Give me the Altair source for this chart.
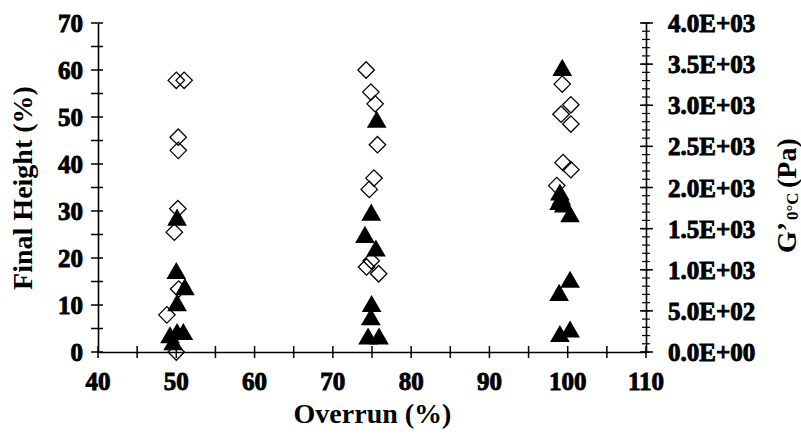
import altair as alt
import pandas as pd

# ---- data ----
DIAMOND_OVERRUN = [50.0, 51.0, 50.25, 50.25, 50.2, 49.75, 50.3, 48.8, 50.0,
                   74.25, 74.85, 75.4, 75.7, 75.25, 74.65, 74.3, 74.9, 75.85,
                   99.3, 100.4, 99.15, 100.4, 99.4, 100.4, 98.6]
DIAMOND_HEIGHT = [57.8, 57.8, 45.7, 42.9, 30.5, 25.5, 13.4, 7.9, 0.0,
                  60.0, 55.3, 52.8, 44.1, 37.0, 34.6, 18.1, 19.4, 16.65,
                  57.0, 52.6, 50.6, 48.5, 40.3, 38.8, 35.4]

TRIANGLE_OVERRUN = [50.1, 50.0, 51.1, 50.1, 49.2, 50.1, 50.9, 49.6,
                    75.6, 74.9, 74.1, 75.5, 74.95, 74.85, 74.5, 75.9,
                    99.3, 99.0, 99.2, 98.9, 99.5, 100.3, 100.3, 98.9, 100.3, 99.0]
TRIANGLE_G = [1640, 990, 795, 600, 210, 250, 250, 125,
              2830, 1700, 1430, 1265, 590, 430, 195, 195,
              3460, 1945, 1885, 1830, 1800, 1680, 885, 725, 280, 225]

X_LABELS = [40, 50, 60, 70, 80, 90, 100, 110]
X_LABEL_TEXT = ["40", "50", "60", "70", "80", "90", "100", "110"]
X_TICKS = [40, 45, 50, 55, 60, 65, 70, 75, 80, 85, 90, 95, 100, 105, 110]
H_LABELS = [0, 10, 20, 30, 40, 50, 60, 70]
H_LABEL_TEXT = ["0", "10", "20", "30", "40", "50", "60", "70"]
H_TICKS = [0, 5, 10, 15, 20, 25, 30, 35, 40, 45, 50, 55, 60, 65, 70]
G_LABELS = [0, 500, 1000, 1500, 2000, 2500, 3000, 3500, 4000]
G_LABEL_TEXT = ["0.0E+00", "5.0E+02", "1.0E+03", "1.5E+03", "2.0E+03",
                "2.5E+03", "3.0E+03", "3.5E+03", "4.0E+03"]
G_MINOR = list(range(0, 4001, 100))

X_TITLE = "Overrun (%)"
H_TITLE = "Final Height (%)"
G_TITLE_MAIN = "G’"
G_TITLE_SUB = "0°C"
G_TITLE_UNIT = "(Pa)"

W, H = 548, 329
FONT = "Liberation Serif"
LABEL_SIZE = 25

x_scale = alt.Scale(domain=[40, 110], nice=False, zero=False)
h_scale = alt.Scale(domain=[0, 70], nice=False, zero=False)
g_scale = alt.Scale(domain=[0, 4000], nice=False, zero=False)

axis_style = dict(titleFont=FONT, titleFontWeight=700, titleColor="black",
                  domainColor="black", titleFontSize=28, ticks=False, labels=False,
                  grid=False, domainWidth=1.6)

x_axis = alt.Axis(values=X_LABELS, title=X_TITLE, orient="bottom", titlePadding=48, **axis_style)
h_axis = alt.Axis(values=H_LABELS, title=H_TITLE, orient="left", titlePadding=61, **axis_style)
g_axis = alt.Axis(values=G_LABELS, title="", orient="right", **axis_style)

diam_df = pd.DataFrame({"overrun": DIAMOND_OVERRUN, "height": DIAMOND_HEIGHT})
tri_df = pd.DataFrame({"overrun": TRIANGLE_OVERRUN, "g": TRIANGLE_G})

triangles = alt.Chart(tri_df).mark_point(
    shape="triangle-up", size=390, filled=True, fill="black", opacity=1
).encode(
    x=alt.X("overrun:Q", scale=x_scale, axis=x_axis),
    y=alt.Y("g:Q", scale=g_scale, axis=g_axis),
)

diamonds = alt.Chart(diam_df).mark_point(
    shape="diamond", size=270, filled=False, stroke="black", strokeWidth=1.3, opacity=1
).encode(
    x=alt.X("overrun:Q", scale=x_scale),
    y=alt.Y("height:Q", scale=h_scale, axis=h_axis),
)

h_ticks = alt.Chart(pd.DataFrame({"v": H_TICKS})).mark_rule(color="black", strokeWidth=1.5).encode(
    y=alt.Y("v:Q", scale=h_scale, axis=None), x=alt.value(-7), x2=alt.value(5)
)
g_major = alt.Chart(pd.DataFrame({"v": G_LABELS})).mark_rule(color="black", strokeWidth=1.5).encode(
    y=alt.Y("v:Q", scale=g_scale, axis=None), x=alt.value(W - 6), x2=alt.value(W + 7)
)
g_minor = alt.Chart(pd.DataFrame({"v": G_MINOR})).mark_rule(color="black", strokeWidth=1.2).encode(
    y=alt.Y("v:Q", scale=g_scale, axis=None), x=alt.value(W - 4), x2=alt.value(W + 4)
)
x_ticks = alt.Chart(pd.DataFrame({"v": X_TICKS})).mark_rule(color="black", strokeWidth=1.5).encode(
    x=alt.X("v:Q", scale=x_scale), y=alt.value(H - 6), y2=alt.value(H + 6)
)

label_mark = dict(font=FONT, fontWeight="bold", fontSize=LABEL_SIZE, color="black",
                  stroke="black", strokeWidth=0.9)

x_labels = alt.Chart(pd.DataFrame({"v": X_LABELS, "t": X_LABEL_TEXT})).mark_text(
    align="center", baseline="alphabetic", **label_mark
).encode(x=alt.X("v:Q", scale=x_scale), y=alt.value(H + 38), text="t:N")

h_labels = alt.Chart(pd.DataFrame({"v": H_LABELS, "t": H_LABEL_TEXT})).mark_text(
    align="right", baseline="middle", dy=1, **label_mark
).encode(y=alt.Y("v:Q", scale=h_scale, axis=None), x=alt.value(-15), text="t:N")

g_labels = alt.Chart(pd.DataFrame({"v": G_LABELS, "t": G_LABEL_TEXT})).mark_text(
    align="left", baseline="middle", dy=1, **label_mark
).encode(y=alt.Y("v:Q", scale=g_scale, axis=None), x=alt.value(W + 22), text="t:N")

def title_text(txt, size, px, py):
    return alt.Chart(pd.DataFrame({"t": [txt]})).mark_text(
        angle=270, align="left", baseline="alphabetic", font=FONT,
        fontWeight="bold", fontSize=size, color="black"
    ).encode(text="t:N", x=alt.value(px), y=alt.value(py))

t_main = title_text(G_TITLE_MAIN, 28, 698, 230)
t_sub = title_text(G_TITLE_SUB, 17, 700, 197)
t_unit = title_text(G_TITLE_UNIT, 28, 698, 165)

chart = alt.layer(
    triangles, diamonds, h_ticks, g_major, g_minor, x_ticks,
    x_labels, h_labels, g_labels, t_main, t_sub, t_unit
).resolve_scale(
    y="independent"
).resolve_axis(
    y="independent"
).properties(
    width=W, height=H,
    padding={"left": 98, "top": 23, "right": 155, "bottom": 88},
    autosize=alt.AutoSizeParams(type="none"),
    background="white",
).configure_view(stroke=None)

chart.save("out.html", embed_options={"renderer": "svg", "actions": False})
